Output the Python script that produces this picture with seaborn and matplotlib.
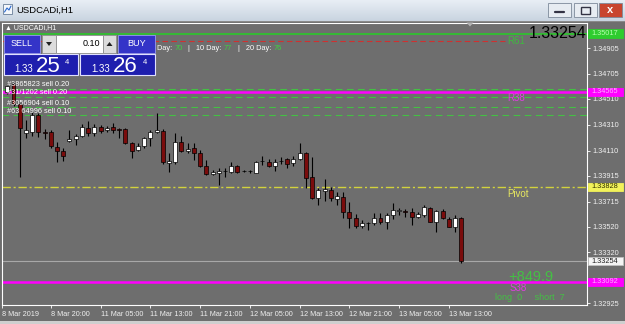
import numpy as np
import pandas as pd
import seaborn as sns
import matplotlib
matplotlib.use("Agg")
import matplotlib.pyplot as plt
import matplotlib.transforms as mtransforms
from matplotlib.patches import Rectangle, Polygon
from matplotlib.colors import LinearSegmentedColormap

# ---------------- data (USDCADi, H1) ----------------
opens = [1.34564, 1.34626, 1.34471, 1.34246, 1.34254, 1.34386, 1.34254, 1.34254, 1.34138, 1.34107,
         1.34184, 1.34200, 1.34223, 1.34285, 1.34246, 1.34293, 1.34270, 1.34293, 1.34277, 1.34277,
         1.34169, 1.34115, 1.34146, 1.34208, 1.34254, 1.34262, 1.34014, 1.34022, 1.34177, 1.34107,
         1.34130, 1.34091, 1.33991, 1.33929, 1.33936, 1.33952, 1.33944, 1.33991, 1.33952, 1.33948,
         1.33940, 1.34029, 1.34022, 1.33991, 1.34029, 1.34041, 1.34014, 1.34045, 1.34091, 1.33905,
         1.33743, 1.33793, 1.33805, 1.33735, 1.33750, 1.33634, 1.33588, 1.33529, 1.33545, 1.33549,
         1.33588, 1.33553, 1.33611, 1.33642, 1.33638, 1.33636, 1.33595, 1.33611, 1.33663, 1.33559,
         1.33644, 1.33577, 1.33520, 1.33585]
highs = [1.34626, 1.34649, 1.34479, 1.34347, 1.34409, 1.34401, 1.34277, 1.34270, 1.34177, 1.34130,
         1.34270, 1.34239, 1.34316, 1.34339, 1.34316, 1.34308, 1.34301, 1.34324, 1.34285, 1.34285,
         1.34177, 1.34169, 1.34215, 1.34270, 1.34401, 1.34277, 1.34091, 1.34246, 1.34223, 1.34169,
         1.34169, 1.34115, 1.34037, 1.33960, 1.33975, 1.33975, 1.34022, 1.33998, 1.33960, 1.33960,
         1.34029, 1.34068, 1.34045, 1.34045, 1.34060, 1.34053, 1.34068, 1.34169, 1.34099, 1.34060,
         1.33820, 1.33890, 1.33828, 1.33789, 1.33789, 1.33712, 1.33619, 1.33572, 1.33553, 1.33626,
         1.33626, 1.33626, 1.33704, 1.33665, 1.33657, 1.33665, 1.33636, 1.33688, 1.33675, 1.33650,
         1.33655, 1.33593, 1.33611, 1.33593]
lows = [1.34549, 1.34456, 1.33905, 1.34208, 1.34223, 1.34215, 1.34200, 1.34130, 1.34022, 1.34029,
        1.34177, 1.34153, 1.34215, 1.34223, 1.34223, 1.34246, 1.34254, 1.34246, 1.34208, 1.34161,
        1.34053, 1.34107, 1.34130, 1.34146, 1.34246, 1.34006, 1.33944, 1.34006, 1.34099, 1.34091,
        1.34037, 1.33983, 1.33921, 1.33921, 1.33843, 1.33905, 1.33936, 1.33936, 1.33944, 1.33936,
        1.33936, 1.33998, 1.33983, 1.33952, 1.34006, 1.33975, 1.33991, 1.34037, 1.33820, 1.33735,
        1.33688, 1.33719, 1.33719, 1.33688, 1.33588, 1.33510, 1.33510, 1.33510, 1.33495, 1.33533,
        1.33541, 1.33502, 1.33580, 1.33611, 1.33595, 1.33533, 1.33588, 1.33598, 1.33557, 1.33481,
        1.33577, 1.33515, 1.33481, 1.33241]
closes = [1.34611, 1.34471, 1.34285, 1.34270, 1.34386, 1.34254, 1.34250, 1.34146, 1.34107, 1.34068,
          1.34200, 1.34223, 1.34293, 1.34246, 1.34293, 1.34262, 1.34285, 1.34270, 1.34273, 1.34169,
          1.34107, 1.34146, 1.34208, 1.34254, 1.34266, 1.34022, 1.34029, 1.34177, 1.34107, 1.34122,
          1.34091, 1.33991, 1.33929, 1.33944, 1.33952, 1.33948, 1.33991, 1.33944, 1.33952, 1.33952,
          1.34022, 1.34033, 1.33991, 1.34022, 1.34033, 1.34006, 1.34041, 1.34091, 1.33898, 1.33743,
          1.33805, 1.33812, 1.33743, 1.33758, 1.33634, 1.33588, 1.33522, 1.33545, 1.33549, 1.33590,
          1.33553, 1.33611, 1.33650, 1.33646, 1.33634, 1.33593, 1.33619, 1.33670, 1.33559, 1.33642,
          1.33585, 1.33520, 1.33585, 1.33254]

time_labels = ["8 Mar 2019", "8 Mar 20:00", "11 Mar 05:00", "11 Mar 13:00", "11 Mar 21:00",
               "12 Mar 05:00", "12 Mar 13:00", "12 Mar 21:00", "13 Mar 05:00", "13 Mar 13:00"]
price_ticks = [1.34905, 1.34705, 1.34510, 1.34310, 1.34110, 1.33915, 1.33715, 1.33520, 1.33320, 1.32925]

top_level = 1.35017
r61_level = 1.34962
r38_level = 1.34565
pivot_level = 1.33828
bid_price = 1.33254
s38_level = 1.33092
order_levels = [1.34591, 1.34529, 1.34444, 1.34386]
order_labels = ["#3865823 sell 0.20", "#31/1202 sell 0.20", "#3056904 sell 0.10", "#63 64996 sell 0.10"]
day_ranges = [70, 77, 76]
profit_text = "+849.9"
long_count, short_count = 0, 7
lot_size = "0.10"

# ---------------- style ----------------
BG = '#6e6e6e'
sns.set_theme(style='dark', rc={'axes.facecolor': BG, 'figure.facecolor': BG})
plt.rcParams['font.family'] = ['Liberation Sans', 'DejaVu Sans']

W, H = 625, 324
fig = plt.figure(figsize=(W / 100, H / 100), dpi=100, facecolor=BG)
ax = fig.add_axes([2 / W, 1 - 305 / H, 585 / W, 282 / H])
ax.set_facecolor(BG)
ax.grid(False)

df = pd.DataFrame({'open': opens, 'high': highs, 'low': lows, 'close': closes})
df['bar'] = np.arange(len(df))
df['bull'] = df['close'] >= df['open']

ax.vlines(df['bar'], df['low'], df['high'], color='black', lw=0.8, zorder=3)
bottoms = np.minimum(df['open'], df['close'])
heights = np.maximum((df['close'] - df['open']).abs(), 0.000015)
colors = np.where(df['bull'], 'white', '#7a0c0c')
ax.bar(df['bar'], heights, bottom=bottoms, width=0.64, color=colors,
       edgecolor='black', linewidth=0.5, zorder=4)

ax.set_xlim(-0.85, 93.2)
ax.set_ylim(1.32913, 1.35099)

# level lines
ax.axhline(top_level, color='#30c030', lw=1.3, zorder=2)
ax.hlines(r61_level, -0.85, 80, color='#d03030', lw=0.8, linestyles=(0, (5, 3)), zorder=2)
for lv in order_levels:
    ax.axhline(lv, color='#44c044', lw=0.8, ls=(0, (6, 4)), zorder=2)
ax.axhline(r38_level, color='#ff00ff', lw=1.8, zorder=2)
ax.axhline(pivot_level, color='#d2d23c', lw=1.0, ls=(0, (6, 2, 1.5, 2)), zorder=2)
ax.axhline(bid_price, color='#a8a8a8', lw=0.8, zorder=2)
ax.axhline(s38_level, color='#ff00ff', lw=1.8, zorder=2)

# level captions
ax.text(80.3, r61_level, "R61", color='#40b840', fontsize=7, va='center', ha='left', zorder=5)
ax.text(80.3, r38_level - 0.00012, "R38", color='#e040e0', fontsize=7, va='top', ha='left', zorder=5)
ax.text(80.3, pivot_level - 0.00012, "Pivot", color='#e8e860', fontsize=7, va='top', ha='left', zorder=5)
ax.text(80.8, s38_level - 0.00010, "S38", color='#e040e0', fontsize=7, va='top', ha='left', zorder=5)

# order labels
bl = mtransforms.blended_transform_factory(ax.transAxes, ax.transData)
for lv, txt in zip(order_levels, order_labels):
    ax.text(0.008, lv + 0.00003, txt, transform=bl, color='white', fontsize=5.3,
            va='bottom', ha='left', zorder=6)

# axes styling
for s in ax.spines.values():
    s.set_color('white')
    s.set_linewidth(0.8)
ax.yaxis.tick_right()
ax.set_yticks(price_ticks)
ax.set_yticklabels([f"{p:.5f}" for p in price_ticks])
ax.tick_params(axis='y', right=True, left=False, labelright=True, labelleft=False,
               length=2.5, width=0.6, color='white', labelcolor='#f0f0f0', labelsize=5.3, pad=1.5)
tick_bars = [-0.85] + [7 + 8 * k for k in range(len(time_labels) - 1)]
ax.set_xticks(tick_bars)
ax.set_xticklabels(time_labels)
ax.tick_params(axis='x', bottom=True, length=2.5, width=0.6, color='white',
               labelcolor='#f0f0f0', labelsize=5.2, pad=1.5)
for lbl in ax.get_xticklabels():
    lbl.set_ha('left')

# price boxes on right axis
bt = mtransforms.blended_transform_factory(fig.transFigure, ax.transData)


def price_box(level, text, fc, tc, ec=None):
    h = 0.00064
    ax.add_patch(Rectangle((588 / W, level - h / 2), 35 / W, h, transform=bt, fc=fc,
                           ec=ec or fc, lw=0.6, clip_on=False, zorder=8))
    ax.text(591 / W, level, text, transform=bt, fontsize=5.3, color=tc, va='center',
            ha='left', clip_on=False, zorder=9)


price_box(top_level, f"{top_level:.5f}", '#2ecc2e', '#b8ffb0')
price_box(r38_level, f"{r38_level:.5f}", '#ff00ff', '#ffb0ff')
price_box(pivot_level, f"{pivot_level:.5f}", '#f2f25a', '#303000')
price_box(bid_price, f"{bid_price:.5f}", '#f4f4f4', '#202020', ec='#c0c0c0')
price_box(s38_level, f"{s38_level:.5f}", '#ff00ff', '#ffb0ff')

# ---------------- overlay (window decoration, panel, labels) ----------------
oax = fig.add_axes([0, 0, 1, 1], zorder=10)
oax.axis('off')
cmap = LinearSegmentedColormap.from_list('tb', ['#e8eef5', '#c9d4e0'])
oax.imshow(np.linspace(0, 1, 32)[:, None], cmap=cmap, extent=[0, W, 21, 0], aspect='auto', zorder=1)
oax.set_xlim(0, W)
oax.set_ylim(H, 0)
oax.add_patch(Rectangle((0, 21), W, 1, fc='#8a8a8a', ec='none', zorder=2))
oax.add_patch(Rectangle((0, 321), W, 3, fc='#cfcfcf', ec='none', zorder=2))
# icon + title
oax.add_patch(Rectangle((3, 4), 9, 10, fc='#f4f7fb', ec='#6a7f99', lw=0.6, zorder=3))
oax.plot([4.5, 7, 9, 11], [12, 8, 10, 6], color='#2a6ad0', lw=0.8, zorder=4)
oax.text(16, 10.5, "USDCADi,H1", fontsize=6.8, color='black', va='center', ha='left', zorder=4)
# window buttons
for x0, fc in [(548, '#e7ecf2'), (574, '#e7ecf2'), (599, '#c8452f')]:
    oax.add_patch(Rectangle((x0, 3), 23, 14, fc=fc, ec='#7d8a9a', lw=0.6, zorder=3))
oax.plot([555, 564], [12, 12], color='#334', lw=1.6, zorder=4)
oax.add_patch(Rectangle((581, 6.5), 9, 7, fc='none', ec='#334', lw=1.0, zorder=4))
oax.text(610.5, 10, "x", fontsize=8, fontweight='bold', color='white', ha='center', va='center', zorder=4)

# chart caption and shift marker
oax.text(5, 27.3, "\u25b2 USDCADi,H1", fontsize=5, color='white', va='center', ha='left', zorder=4)
oax.add_patch(Polygon([[466.5, 22.5], [473.5, 22.5], [470, 26.5]], closed=True, fc='#b4b4b4', ec='none', zorder=4))

# trade panel
BTN = '#3434c8'
BOX = '#1e1eae'
oax.add_patch(Rectangle((4, 35), 36, 18, fc=BTN, ec='#9a9af0', lw=0.6, zorder=4))
oax.text(22, 44, "SELL", fontsize=6.5, color='white', ha='center', va='center', zorder=5)
oax.add_patch(Rectangle((42, 35), 14, 18, fc='#dcdcdc', ec='#909090', lw=0.6, zorder=4))
oax.add_patch(Polygon([[46, 42], [52, 42], [49, 46]], closed=True, fc='#222', ec='none', zorder=6))
oax.add_patch(Rectangle((56, 35), 47, 18, fc='white', ec='#909090', lw=0.6, zorder=4))
oax.text(100, 44, lot_size, fontsize=6.5, color='black', ha='right', va='center', zorder=5)
oax.add_patch(Rectangle((103, 35), 13, 18, fc='#dcdcdc', ec='#909090', lw=0.6, zorder=4))
oax.add_patch(Polygon([[106.5, 46], [112.5, 46], [109.5, 42]], closed=True, fc='#222', ec='none', zorder=6))
oax.add_patch(Rectangle((118, 35), 37, 18, fc=BTN, ec='#9a9af0', lw=0.6, zorder=4))
oax.text(136.5, 44, "BUY", fontsize=6.5, color='white', ha='center', va='center', zorder=5)

oax.add_patch(Rectangle((4, 54), 74, 21, fc=BOX, ec='#e0e0ff', lw=0.8, zorder=4))
oax.add_patch(Rectangle((80, 54), 75, 21, fc=BOX, ec='#e0e0ff', lw=0.8, zorder=4))
oax.text(14, 72.5, "1.33", fontsize=7, color='white', ha='left', va='baseline', zorder=5)
oax.text(36, 72.5, "25", fontsize=16, color='white', ha='left', va='baseline', zorder=5)
oax.text(65, 62, "4", fontsize=5.5, color='white', ha='left', va='center', zorder=5)
oax.text(91, 72.5, "1.33", fontsize=7, color='white', ha='left', va='baseline', zorder=5)
oax.text(113, 72.5, "26", fontsize=16, color='white', ha='left', va='baseline', zorder=5)
oax.text(143, 62, "4", fontsize=5.5, color='white', ha='left', va='center', zorder=5)

# daily range line
parts = [("Day: ", 'white'), (str(day_ranges[0]), '#40d040'), ("   |   10 Day: ", 'white'),
         (str(day_ranges[1]), '#40d040'), ("   |   20 Day: ", 'white'), (str(day_ranges[2]), '#40d040')]
xcur = 157
renderer = fig.canvas.get_renderer()
for txt, col in parts:
    t = oax.text(xcur, 49, txt, fontsize=5.3, color=col, ha='left', va='center', zorder=5)
    bb = t.get_window_extent(renderer=renderer)
    xcur += bb.width * W / fig.bbox.width

# big bid text and account summary
oax.text(587, 34, f"{bid_price:.5f}", fontsize=11.5, color='black', ha='right', va='center', zorder=5)
oax.text(508, 277, profit_text, fontsize=10.5, color='#44c044', ha='left', va='center', zorder=5)
oax.text(495, 297, f"long  {long_count}     short  {short_count}", fontsize=6.5, color='#44c044',
         ha='left', va='center', zorder=5)

fig.savefig("out.png", dpi=100, facecolor=BG)
